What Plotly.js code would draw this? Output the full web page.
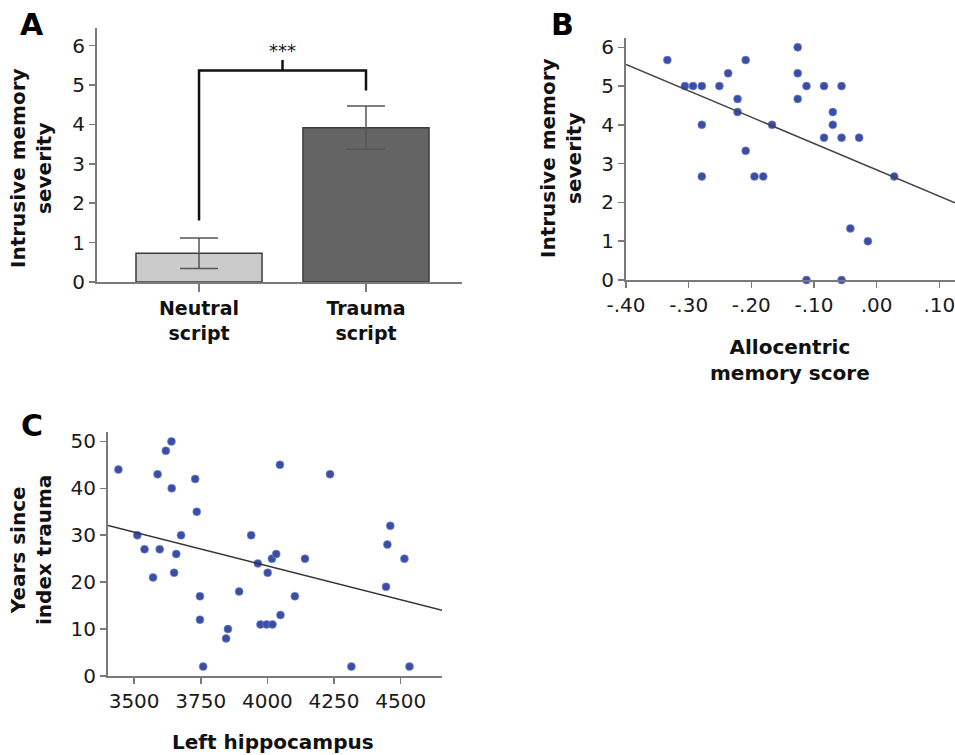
<!DOCTYPE html>
<html>
<head>
<meta charset="utf-8">
<script src="https://cdn.plot.ly/plotly-3.0.1.min.js"></script>
<style>html,body{margin:0;padding:0;background:#fff;}#chart{width:955px;height:755px;}</style>
</head>
<body>
<div id="chart"></div>
<script>
// ---------- Panel A data ----------
const barCategories = ["Neutral<br>script", "Trauma<br>script"];
const barPositions = [0, 1];
const barMeans = [0.73, 3.92];
const barErrors = [0.39, 0.55];
const barColors = ["#cbcbcb", "#646464"];
const bracketX = [0, 0, 1, 1];
const bracketY = [1.56, 5.37, 5.37, 4.86];
const bracketTipX = [0.5, 0.5];
const bracketTipY = [5.37, 5.64];
const sigLabel = "***";
const sigY = 5.88;

// ---------- Panel B data ----------
const allocX = [-0.334, -0.306, -0.293, -0.279, -0.279, -0.279, -0.251, -0.237, -0.222, -0.222,
  -0.209, -0.209, -0.195, -0.181, -0.167, -0.126, -0.126, -0.126, -0.112, -0.112,
  -0.084, -0.084, -0.070, -0.070, -0.056, -0.056, -0.056, -0.042, -0.028, -0.014, 0.028];
const allocY = [5.67, 5, 5, 5, 4, 2.67, 5, 5.33, 4.67, 4.33,
  5.67, 3.33, 2.67, 2.67, 4, 6, 5.33, 4.67, 5, 0,
  5, 3.67, 4.33, 4, 5, 3.67, 0, 1.33, 3.67, 1, 2.67];
const allocFitX = [-0.40, 0.125];
const allocFitY = [5.56, 1.99];
const allocTickVals = [-0.4, -0.3, -0.2, -0.1, 0, 0.1];
const allocTickText = ["-.40", "-.30", "-.20", "-.10", ".00", ".10"];

// ---------- Panel C data ----------
const hippoX = [3441, 3512, 3539, 3571, 3588, 3596, 3619, 3640, 3641, 3650,
  3658, 3676, 3729, 3735, 3747, 3747, 3759, 3845, 3852, 3894,
  3939, 3964, 3974, 3997, 4001, 4017, 4019, 4033, 4047, 4049,
  4103, 4141, 4235, 4315, 4445, 4450, 4461, 4514, 4533];
const yearsY = [44, 30, 27, 21, 43, 27, 48, 50, 40, 22,
  26, 30, 42, 35, 17, 12, 2, 8, 10, 18,
  30, 24, 11, 11, 22, 25, 11, 26, 45, 13,
  17, 25, 43, 2, 19, 28, 32, 25, 2];
const hippoFitX = [3402, 4656];
const hippoFitY = [32.1, 14.0];

// ---------- styles ----------
const W = 955, H = 755;
const px = v => v / W;
const py = v => (H - v) / H;
const axisColor = "#7a7a7a";
const tickFont = {family: "DejaVu Sans", size: 20, color: "#1a1a1a"};
const titleFont = {family: "DejaVu Sans", size: 20, color: "#111", weight: "bold"};
const letterFont = {family: "DejaVu Sans", size: 30, color: "#000", weight: "bold"};
const dotColor = "#3a4ea6";

const baseAxis = {
  showgrid: false, zeroline: false, showline: true, linecolor: axisColor, linewidth: 2,
  ticks: "outside", ticklen: 6, tickwidth: 1.5, tickcolor: axisColor,
  tickfont: tickFont, fixedrange: true, ticklabeloverflow: "allow"
};

const traces = [
  {
    type: "bar", x: barPositions, y: barMeans, width: 0.755,
    marker: {color: barColors, line: {color: "#3c3c3c", width: 1.5}},
    error_y: {type: "data", array: barErrors, visible: true, color: "#555", thickness: 1.5, width: 19},
    xaxis: "x", yaxis: "y", hoverinfo: "skip", showlegend: false
  },
  {
    type: "scatter", mode: "lines", x: bracketX, y: bracketY,
    line: {color: "#111", width: 2.5}, xaxis: "x", yaxis: "y", showlegend: false, hoverinfo: "skip"
  },
  {
    type: "scatter", mode: "lines", x: bracketTipX, y: bracketTipY,
    line: {color: "#111", width: 2.5}, xaxis: "x", yaxis: "y", showlegend: false, hoverinfo: "skip"
  },
  {
    type: "scatter", mode: "markers", x: allocX, y: allocY,
    marker: {color: dotColor, size: 8, line: {color: "#8090d0", width: 0.6}},
    xaxis: "x2", yaxis: "y2", showlegend: false, cliponaxis: false
  },
  {
    type: "scatter", mode: "lines", x: allocFitX, y: allocFitY,
    line: {color: "#444", width: 1.5}, xaxis: "x2", yaxis: "y2", showlegend: false
  },
  {
    type: "scatter", mode: "markers", x: hippoX, y: yearsY,
    marker: {color: dotColor, size: 8, line: {color: "#8090d0", width: 0.6}},
    xaxis: "x3", yaxis: "y3", showlegend: false, cliponaxis: false
  },
  {
    type: "scatter", mode: "lines", x: hippoFitX, y: hippoFitY,
    line: {color: "#333", width: 1.5}, xaxis: "x3", yaxis: "y3", showlegend: false
  }
];

const layout = {
  width: W, height: H,
  margin: {l: 0, r: 0, t: 0, b: 0},
  paper_bgcolor: "#fff", plot_bgcolor: "#fff",
  showlegend: false,
  xaxis: Object.assign({}, baseAxis, {
    domain: [px(97), px(462)], range: [-0.611, 1.575],
    tickvals: barPositions, ticktext: barCategories, ticklen: 8,
    tickfont: {family: "DejaVu Sans", size: 19, color: "#111", weight: "bold"},
    ticklabelstandoff: 0, anchor: "y"
  }),
  yaxis: Object.assign({}, baseAxis, {
    domain: [py(282), py(28)], range: [0, 6.45], tickvals: [0, 1, 2, 3, 4, 5, 6], anchor: "x"
  }),
  xaxis2: Object.assign({}, baseAxis, {
    domain: [px(626), 1], range: [-0.4, 0.125],
    tickvals: allocTickVals, ticktext: allocTickText, anchor: "y2"
  }),
  yaxis2: Object.assign({}, baseAxis, {
    domain: [py(280), py(38)], range: [0, 6.24], tickvals: [0, 1, 2, 3, 4, 5, 6], anchor: "x2"
  }),
  xaxis3: Object.assign({}, baseAxis, {
    domain: [px(108), px(442)], range: [3402, 4655],
    tickvals: [3500, 3750, 4000, 4250, 4500], anchor: "y3", ticklabelstandoff: 0
  }),
  yaxis3: Object.assign({}, baseAxis, {
    domain: [py(676), py(432)], range: [0, 52], tickvals: [0, 10, 20, 30, 40, 50], anchor: "x3"
  }),
  annotations: [
    {text: "A", x: px(32), y: py(24), xref: "paper", yref: "paper", showarrow: false, font: letterFont, xanchor: "center", yanchor: "middle"},
    {text: "B", x: px(562), y: py(24), xref: "paper", yref: "paper", showarrow: false, font: letterFont, xanchor: "center", yanchor: "middle"},
    {text: "C", x: px(32), y: py(425), xref: "paper", yref: "paper", showarrow: false, font: letterFont, xanchor: "center", yanchor: "middle"},
    {text: sigLabel, x: 0.5, y: sigY, xref: "x", yref: "y", showarrow: false, font: {family: "DejaVu Sans", size: 18, color: "#111"}, xanchor: "center", yanchor: "middle"},
    {text: "Intrusive memory<br>severity", textangle: -90, x: px(31), y: py(168), xref: "paper", yref: "paper", showarrow: false, font: titleFont, xanchor: "center", yanchor: "middle"},
    {text: "Intrusive memory<br>severity", textangle: -90, x: px(561), y: py(158), xref: "paper", yref: "paper", showarrow: false, font: titleFont, xanchor: "center", yanchor: "middle"},
    {text: "Allocentric<br>memory score", x: px(790), y: py(360), xref: "paper", yref: "paper", showarrow: false, font: titleFont, xanchor: "center", yanchor: "middle"},
    {text: "Years since<br>index trauma", textangle: -90, x: px(31), y: py(550), xref: "paper", yref: "paper", showarrow: false, font: titleFont, xanchor: "center", yanchor: "middle"},
    {text: "Left hippocampus", x: px(273), y: py(742), xref: "paper", yref: "paper", showarrow: false, font: titleFont, xanchor: "center", yanchor: "middle"}
  ]
};

Plotly.newPlot("chart", traces, layout, {staticPlot: true, displayModeBar: false});
</script>
</body>
</html>
